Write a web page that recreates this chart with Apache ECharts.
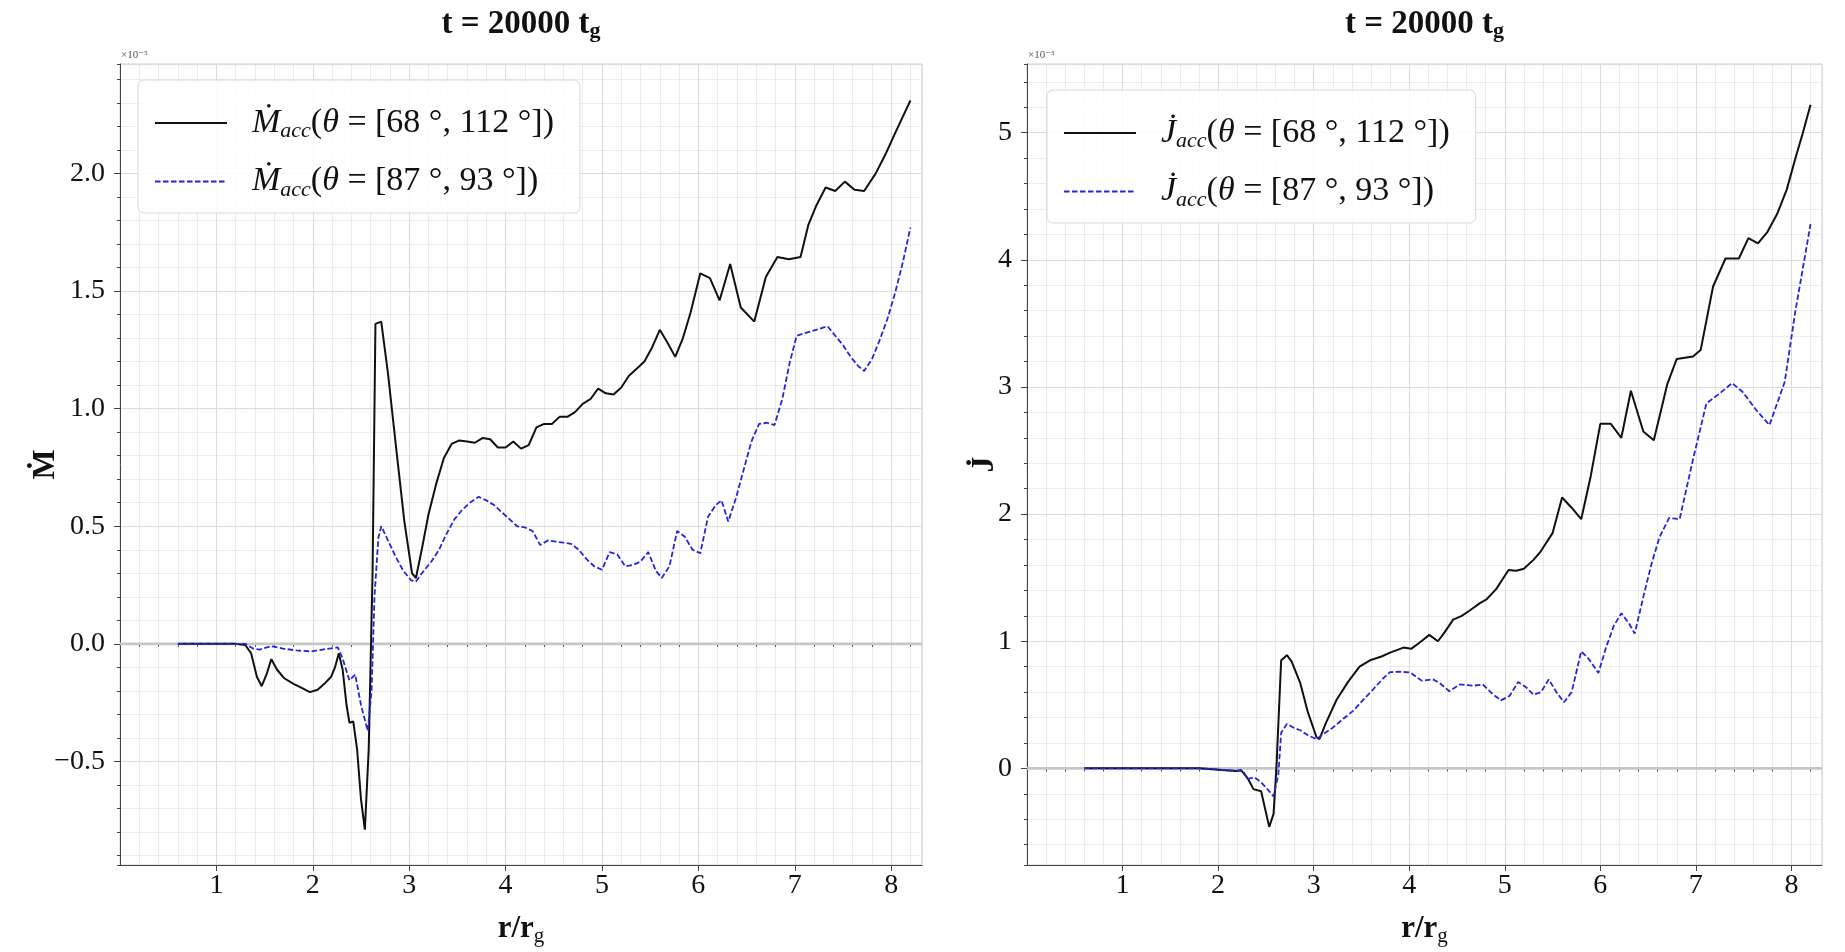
<!DOCTYPE html>
<html><head><meta charset="utf-8">
<script src="https://cdn.jsdelivr.net/npm/echarts@6/dist/echarts.min.js"></script>
<style>html,body{margin:0;padding:0;background:#fff}#c{width:1845px;height:952px}</style>
</head><body><div id="c"></div>
<script>
// ---- data (values in units of 1e-5) ----
const mdotWideR = [0.6,0.8,1.0,1.2,1.3,1.36,1.42,1.47,1.52,1.57,1.63,1.70,1.80,1.90,1.97,2.05,2.12,2.19,2.23,2.27,2.31,2.35,2.38,2.42,2.46,2.50,2.54,2.58,2.62,2.65,2.71,2.78,2.86,2.95,3.03,3.07,3.13,3.20,3.28,3.36,3.44,3.52,3.60,3.68,3.76,3.84,3.92,4.00,4.08,4.16,4.24,4.32,4.40,4.48,4.56,4.64,4.72,4.80,4.88,4.96,5.04,5.12,5.20,5.28,5.36,5.44,5.52,5.60,5.68,5.76,5.84,5.92,6.02,6.12,6.22,6.33,6.44,6.58,6.70,6.82,6.94,7.06,7.14,7.22,7.32,7.42,7.52,7.62,7.72,7.84,7.94,8.04,8.12,8.20];
const mdotWide  = [0,0,0,0,-0.005,-0.04,-0.14,-0.18,-0.13,-0.065,-0.11,-0.145,-0.17,-0.19,-0.205,-0.195,-0.17,-0.14,-0.10,-0.04,-0.11,-0.26,-0.335,-0.33,-0.45,-0.66,-0.79,-0.45,0.3,1.36,1.37,1.15,0.85,0.52,0.30,0.28,0.40,0.55,0.68,0.79,0.85,0.865,0.86,0.855,0.875,0.87,0.835,0.835,0.86,0.83,0.845,0.92,0.935,0.935,0.965,0.965,0.985,1.02,1.04,1.085,1.065,1.06,1.09,1.14,1.17,1.20,1.26,1.335,1.28,1.22,1.30,1.41,1.575,1.555,1.46,1.615,1.43,1.37,1.56,1.645,1.635,1.645,1.78,1.86,1.94,1.925,1.965,1.93,1.925,2.0,2.08,2.17,2.24,2.31];

const mdotNarrowR = [0.6,1.0,1.3,1.38,1.45,1.57,1.69,1.83,1.99,2.10,2.26,2.31,2.38,2.44,2.50,2.57,2.61,2.64,2.68,2.71,2.78,2.86,2.94,3.02,3.07,3.15,3.23,3.31,3.39,3.47,3.55,3.63,3.72,3.80,3.88,3.96,4.04,4.12,4.20,4.28,4.36,4.44,4.52,4.60,4.68,4.76,4.84,4.92,5.00,5.08,5.16,5.24,5.32,5.40,5.48,5.56,5.62,5.70,5.78,5.86,5.94,6.02,6.10,6.18,6.24,6.31,6.39,6.47,6.55,6.63,6.71,6.79,6.87,6.95,7.02,7.10,7.18,7.26,7.34,7.42,7.50,7.58,7.66,7.72,7.80,7.88,7.96,8.04,8.12,8.20];
const mdotNarrow  = [0,0,0,-0.02,-0.024,-0.01,-0.02,-0.028,-0.032,-0.024,-0.015,-0.063,-0.155,-0.13,-0.26,-0.37,-0.2,0.2,0.45,0.5,0.44,0.37,0.31,0.27,0.265,0.31,0.35,0.40,0.47,0.53,0.57,0.60,0.625,0.61,0.59,0.56,0.53,0.50,0.495,0.48,0.42,0.44,0.435,0.43,0.425,0.40,0.36,0.33,0.315,0.39,0.38,0.33,0.335,0.35,0.39,0.31,0.28,0.33,0.48,0.455,0.40,0.385,0.54,0.59,0.61,0.52,0.62,0.74,0.86,0.935,0.94,0.93,1.04,1.20,1.31,1.32,1.33,1.34,1.35,1.31,1.27,1.22,1.18,1.16,1.21,1.29,1.38,1.49,1.62,1.77];

const jdotWideR = [0.6,1.0,1.5,1.8,2.0,2.19,2.24,2.31,2.37,2.45,2.535,2.58,2.61,2.66,2.72,2.77,2.86,2.94,3.03,3.06,3.13,3.24,3.36,3.48,3.59,3.71,3.80,3.94,4.02,4.11,4.21,4.30,4.37,4.46,4.55,4.63,4.74,4.81,4.91,4.97,5.04,5.12,5.20,5.30,5.37,5.50,5.60,5.70,5.80,5.90,6.00,6.11,6.22,6.32,6.45,6.56,6.70,6.80,6.97,7.05,7.18,7.31,7.45,7.55,7.65,7.75,7.85,7.95,8.05,8.12,8.20];
const jdotWide  = [0,0,0,0,-0.01,-0.02,-0.013,-0.078,-0.163,-0.18,-0.46,-0.36,0,0.85,0.89,0.84,0.67,0.44,0.245,0.23,0.36,0.54,0.68,0.80,0.85,0.88,0.91,0.95,0.94,0.99,1.05,1.0,1.07,1.17,1.20,1.24,1.30,1.33,1.41,1.48,1.56,1.555,1.57,1.64,1.70,1.85,2.13,2.05,1.96,2.30,2.71,2.71,2.60,2.97,2.65,2.58,3.02,3.22,3.24,3.29,3.79,4.01,4.01,4.17,4.13,4.22,4.36,4.55,4.82,5.0,5.22];

const jdotNarrowR = [0.6,1.0,1.5,1.8,2.0,2.19,2.26,2.31,2.38,2.45,2.50,2.58,2.63,2.66,2.72,2.79,2.86,2.94,3.03,3.10,3.20,3.31,3.41,3.52,3.62,3.73,3.80,3.90,4.01,4.13,4.25,4.32,4.42,4.53,4.67,4.77,4.88,4.96,5.05,5.14,5.22,5.30,5.38,5.46,5.54,5.62,5.70,5.80,5.88,5.98,6.06,6.14,6.22,6.30,6.36,6.46,6.54,6.62,6.72,6.83,6.97,7.11,7.25,7.38,7.49,7.63,7.77,7.93,8.04,8.20];
const jdotNarrow  = [0,0,0,0,-0.008,-0.02,-0.02,-0.085,-0.07,-0.11,-0.15,-0.22,-0.05,0.28,0.35,0.32,0.30,0.26,0.23,0.27,0.32,0.39,0.45,0.54,0.62,0.71,0.757,0.76,0.755,0.69,0.70,0.67,0.607,0.66,0.65,0.66,0.58,0.535,0.57,0.68,0.64,0.58,0.60,0.70,0.60,0.52,0.60,0.92,0.86,0.75,0.95,1.12,1.22,1.14,1.06,1.38,1.62,1.82,1.97,1.96,2.43,2.87,2.95,3.03,2.96,2.82,2.70,3.04,3.59,4.28];

// axis limits and tick spacing
const xLimits = [0, 8.32];
const xMajor = 1, xMinor = 0.2;
const mdotLimits = [-0.94, 2.465], mdotMajor = 0.5, mdotMinor = 0.1;
const jdotLimits = [-0.76, 5.54], jdotMajor = 1, jdotMinor = 0.2;

const titleText = 't = 20000 t';
const names = {mw: 'Mdot wide', mn: 'Mdot narrow', jw: 'Jdot wide', jn: 'Jdot narrow'};
const legendLabels = {
  'Mdot wide':   '{i|Ṁ}{s|acc}{n|(}{i|θ}{n| = [68 °, 112 °])}',
  'Mdot narrow': '{i|Ṁ}{s|acc}{n|(}{i|θ}{n| = [87 °, 93 °])}',
  'Jdot wide':   '{i|J\u0307}{s|acc}{n|(}{i|θ}{n| = [68 °, 112 °])}',
  'Jdot narrow': '{i|J\u0307}{s|acc}{n|(}{i|θ}{n| = [87 °, 93 °])}'
};

// ---- chart ----
const FONT = '"Liberation Serif", "Times New Roman", "DejaVu Serif", serif';
const pairs = (r, v) => r.map((x, i) => [x, v[i]]);

const grids = [
  {left: 120, top: 64, width: 802, height: 812},
  {left: 1027, top: 64, width: 795, height: 812}
];

function xAxes(g) {
  return [
    { type: 'value', gridIndex: g, position: 'bottom', offset: 0,
      min: xLimits[0], max: xLimits[1], minInterval: xMinor, maxInterval: xMinor, z: 0,
      axisLine: {show: false}, axisLabel: {show: false},
      axisTick: {show: true, length: 3, lineStyle: {color: '#444'}},
      splitLine: {show: true, lineStyle: {color: '#ececec', width: 1}} },
    { type: 'value', gridIndex: g, position: 'bottom', offset: 0,
      min: xLimits[0], max: xLimits[1], minInterval: xMajor, maxInterval: xMajor, z: 1,
      axisLine: {show: true, onZero: false, lineStyle: {color: '#444', width: 1}},
      axisTick: {show: true, length: 6, lineStyle: {color: '#444'}},
      axisLabel: {fontFamily: FONT, fontSize: 28, color: '#111', margin: 7, showMinLabel: false, showMaxLabel: false},
      splitLine: {show: true, lineStyle: {color: '#dcdcdc', width: 1}},
      name: '{b|r/r}{s|g}', nameLocation: 'middle', nameGap: 46, nameMoveOverlap: false,
      nameTextStyle: {rich: {
        b: {fontFamily: FONT, fontWeight: 'bold', fontSize: 31, color: '#111'},
        s: {fontFamily: FONT, fontSize: 21, color: '#111', padding: [15, 0, 0, 0]}
      }} }
  ];
}
function yAxes(g, lim, major, minor, fmt, label, gap) {
  return [
    { type: 'value', gridIndex: g, position: 'left', offset: 0,
      min: lim[0], max: lim[1], minInterval: minor, maxInterval: minor, z: 0,
      axisLine: {show: false}, axisLabel: {show: false},
      axisTick: {show: true, length: 3, lineStyle: {color: '#444'}},
      splitLine: {show: true, lineStyle: {color: '#ececec', width: 1}} },
    { type: 'value', gridIndex: g, position: 'left', offset: 0,
      min: lim[0], max: lim[1], minInterval: major, maxInterval: major, z: 1,
      axisLine: {show: true, onZero: false, lineStyle: {color: '#444', width: 1}},
      axisTick: {show: true, length: 6, lineStyle: {color: '#444'}},
      axisLabel: {fontFamily: FONT, fontSize: 28, color: '#111', margin: 15, showMinLabel: false, showMaxLabel: false,
                  formatter: fmt},
      splitLine: {show: true, lineStyle: {color: '#dcdcdc', width: 1}},
      name: label, nameLocation: 'middle', nameGap: gap, nameRotate: 90, nameMoveOverlap: false,
      nameTextStyle: {fontFamily: FONT, fontWeight: 'bold', fontSize: 32, color: '#111'} }
  ];
}

const fmt1 = v => (v < 0 ? '\u2212' : '') + Math.abs(v).toFixed(1);
const fmt0 = v => (v < 0 ? '\u2212' : '') + Math.abs(Math.round(v));
const xAxis = [...xAxes(0), ...xAxes(1)];
const yAxis = [
  ...yAxes(0, mdotLimits, mdotMajor, mdotMinor, fmt1, 'Ṁ', 58),
  ...yAxes(1, jdotLimits, jdotMajor, jdotMinor, fmt0, 'J\u0307', 26)
];

function lineSeries(name, data, xi, yi, color, dashed) {
  return {
    name, type: 'line', data, xAxisIndex: xi, yAxisIndex: yi,
    showSymbol: false, symbol: 'none', smooth: false, z: 3, silent: true, animation: false,
    lineStyle: {color, width: dashed ? 1.8 : 2.0, type: dashed ? [5.5, 2.5] : 'solid'},
    itemStyle: {color}
  };
}
// horizontal reference line at zero spanning the axis range (drawn beneath the curves)
function zeroLine(xi, yi) {
  return {
    type: 'line', data: [[xLimits[0], 0], [xLimits[1], 0]], xAxisIndex: xi, yAxisIndex: yi,
    z: 2, silent: true, animation: false, showSymbol: false, symbol: 'none',
    lineStyle: {color: '#c6c6c6', width: 2.8, type: 'solid'}
  };
}

const BLACK = '#111111', BLUE = '#2525dc';
const series = [
  zeroLine(1, 1),
  lineSeries(names.mw, pairs(mdotWideR, mdotWide), 1, 1, BLACK, false),
  lineSeries(names.mn, pairs(mdotNarrowR, mdotNarrow), 1, 1, BLUE, true),
  zeroLine(3, 3),
  lineSeries(names.jw, pairs(jdotWideR, jdotWide), 3, 3, BLACK, false),
  lineSeries(names.jn, pairs(jdotNarrowR, jdotNarrow), 3, 3, BLUE, true)
];

const legendRich = {
  i: {fontFamily: FONT, fontStyle: 'italic', fontSize: 34, color: '#111'},
  s: {fontFamily: FONT, fontStyle: 'italic', fontSize: 22, color: '#111', padding: [17, 0, 0, 0]},
  n: {fontFamily: FONT, fontSize: 34, color: '#111'}
};
function legend(data, left, top) {
  return {
    data, left, top, orient: 'vertical', itemWidth: 72, itemHeight: 14, itemGap: 22,
    padding: [26, 26, 12, 16], backgroundColor: 'rgba(255,255,255,0.85)',
    borderColor: '#d9d9d9', borderWidth: 1, borderRadius: 6, selectedMode: false,
    itemStyle: {opacity: 0},
    formatter: n => legendLabels[n], textStyle: {rich: legendRich, padding: [0, 0, 0, 20]}
  };
}

const titleRich = {
  a: {fontFamily: FONT, fontWeight: 'bold', fontSize: 33, fill: '#111', color: '#111'},
  b: {fontFamily: FONT, fontWeight: 'bold', fontSize: 22, fill: '#111', color: '#111', padding: [15, 0, 0, 0]}
};
function titleGraphic(cx) {
  return {type: 'text', x: cx, y: 24, silent: true,
    style: {text: '{a|' + titleText + '}{b|g}', textAlign: 'center', textVerticalAlign: 'middle',
            align: 'center', verticalAlign: 'middle', rich: titleRich}};
}
function expGraphic(x) {
  return {type: 'text', x, y: 50, silent: true,
    style: {text: '×10⁻⁵', fontFamily: FONT, fontSize: 11, fill: '#555'}};
}

const chart = echarts.init(document.getElementById('c'), null, {renderer: 'canvas'});
chart.setOption({
  backgroundColor: '#ffffff',
  animation: false,
  grid: grids.map(g => Object.assign({show: true, borderColor: '#cfcfcf', borderWidth: 1, containLabel: false}, g)),
  xAxis, yAxis, series,
  legend: [legend([names.mw, names.mn], 138, 80), legend([names.jw, names.jn], 1047, 90)],
  graphic: [
    titleGraphic(grids[0].left + grids[0].width / 2),
    titleGraphic(grids[1].left + grids[1].width / 2),
    expGraphic(grids[0].left + 1),
    expGraphic(grids[1].left + 1)
  ]
});
</script></body></html>
